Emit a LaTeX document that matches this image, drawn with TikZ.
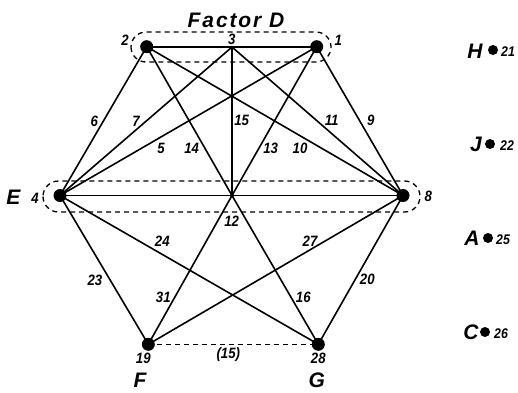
\documentclass[tikz,border=0pt]{standalone}
\usepackage{fontspec}
\setmainfont{Liberation Sans}
\newfontfamily\numfont[FakeStretch=0.88]{Liberation Sans}
\newfontfamily\wideit[LetterSpace=9]{Liberation Sans}
\begin{document}
\begin{tikzpicture}[x=1pt,y=-1pt,
  bigdot/.style={circle,fill=black,inner sep=0pt,minimum size=13pt},
  sidedot/.style={circle,fill=black,inner sep=0pt,minimum size=10pt},
  smalldot/.style={circle,fill=black,inner sep=0pt,minimum size=4pt},
  link/.style={line width=1.6pt},
  grp/.style={line width=1.3pt,dash pattern=on 5pt off 4pt},
  num/.style={font=\numfont\fontsize{15}{15}\selectfont\bfseries\itshape,inner sep=0pt},
  snum/.style={font=\numfont\fontsize{14}{14}\selectfont\bfseries\itshape,inner sep=0pt},
  letter/.style={font=\fontsize{21}{21}\selectfont\bfseries\itshape,inner sep=0pt}]
\useasboundingbox (0,0) rectangle (518,392);
% main points
\node[bigdot] (n2) at (146.7,46.7) {};
\node[bigdot] (n1) at (316.7,46.7) {};
\node[smalldot,minimum size=3pt] (n3) at (232,47) {};
\node[bigdot] (n4) at (60,195.5) {};
\node[bigdot] (n8) at (403,195.5) {};
\node[smalldot] (n12) at (232,195.5) {};
\node[bigdot] (n19) at (148.3,344.3) {};
\node[bigdot] (n28) at (318.3,344.3) {};
\node[smalldot,minimum size=3pt] (jx) at (232,96) {};
% groups
\draw[grp,rounded corners=15pt] (131,32) rectangle (331,62);
\draw[grp,rounded corners=15.5pt] (43,181) rectangle (420,212);
\draw[grp] (n19.center) -- (n28.center);
% links
\draw[link] (n2.center) -- (n1.center);
\draw[link] (n4.center) -- (n8.center);
\draw[link] (n2.center) -- (n4.center);
\draw[link] (n1.center) -- (n8.center);
\draw[link] (n4.center) -- (n19.center);
\draw[link] (n8.center) -- (n28.center);
\draw[link] (n3.center) -- (n4.center);
\draw[link] (n3.center) -- (n8.center);
\draw[link] (n3.center) -- (n12.center);
\draw[link] (n1.center) -- (n4.center);
\draw[link] (n2.center) -- (n8.center);
\draw[link] (n2.center) -- (n12.center);
\draw[link] (n1.center) -- (n12.center);
\draw[link] (n12.center) -- (n19.center);
\draw[link] (n12.center) -- (n28.center);
\draw[link] (n4.center) -- (n28.center);
\draw[link] (n19.center) -- (n8.center);
% labels
\node[letter] (tD) at (236,20) {\wideit\bfseries\itshape Factor D};
\node[num] (l2) at (125,40) {2};
\node[num] (l3) at (231.7,39) {3};
\node[num] (l1) at (338.3,40) {1};
\node[num] (l4) at (35,198) {4};
\node[letter] (tE) at (13.3,197) {E};
\node[num] (l8) at (428.3,196) {8};
\node[num] (l6) at (94.3,121.7) {6};
\node[num] (l7) at (136,121.7) {7};
\node[num] (l5) at (161,148.3) {5};
\node[num] (l14) at (191.7,148.3) {14};
\node[num] (l15) at (241.7,120.7) {15};
\node[num] (l13) at (270.7,148.3) {13};
\node[num] (l10) at (300,148.3) {10};
\node[num] (l11) at (331.7,120.7) {11};
\node[num] (l9) at (370.7,120.7) {9};
\node[num] (l12) at (231.7,221.7) {12};
\node[num] (l24) at (162.3,241.7) {24};
\node[num] (l23) at (95,280) {23};
\node[num] (l31) at (163.3,297.3) {31};
\node[num] (l27) at (310,241.7) {27};
\node[num] (l20) at (367.3,279.3) {20};
\node[num] (l16) at (303.3,297.3) {16};
\node[num] (l19) at (143.3,358.3) {19};
\node[num] (l28) at (318.3,358.3) {28};
\node[num] (lp15) at (228.3,355) {(15)};
\node[letter] (tF) at (140,380) {F};
\node[letter] (tG) at (316.7,380) {G};
% isolated variables
\node[letter] (tH) at (475,51) {H};
\node[sidedot] (dH) at (493,50) {};
\node[snum] (nH) at (508,52) {21};
\node[letter] (tJ) at (476,144) {J};
\node[sidedot] (dJ) at (490,144) {};
\node[snum] (nJ) at (507,146) {22};
\node[letter] (tA) at (472,238) {A};
\node[sidedot] (dA) at (488,238) {};
\node[snum] (nA) at (503,240) {25};
\node[letter] (tC) at (471,332) {C};
\node[sidedot] (dC) at (485,332) {};
\node[snum] (nC) at (501,334) {26};
\end{tikzpicture}
\end{document}
